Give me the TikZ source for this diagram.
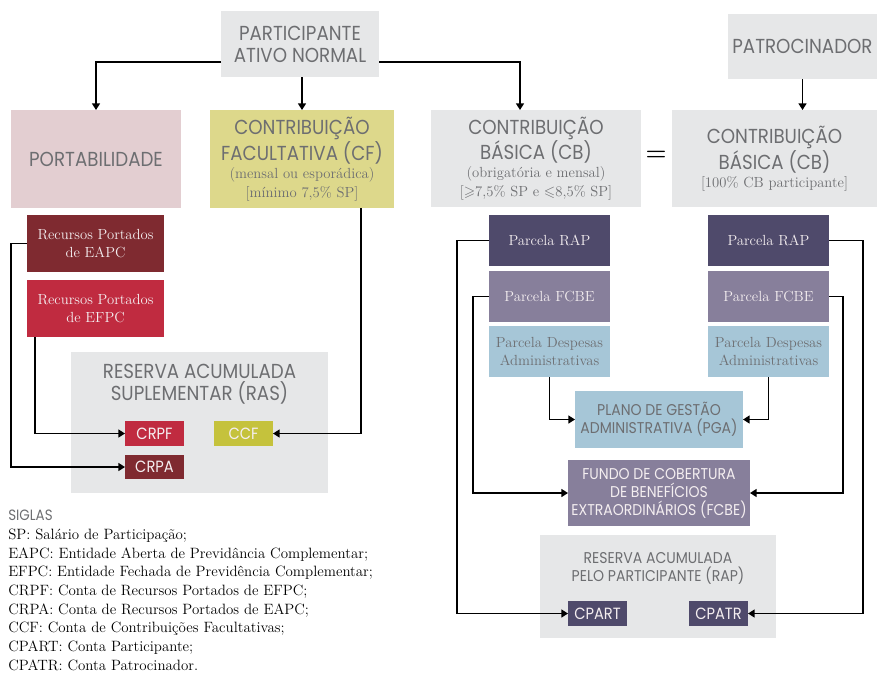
\documentclass[tikz,border=0pt]{standalone}
\usepackage{amssymb}
\usepackage{fontspec}
\usetikzlibrary{arrows.meta}
\newfontfamily\hd[FakeStretch=0.9]{Poppins}
\definecolor{boxgray}{HTML}{E6E7E8}
\definecolor{pinkb}{HTML}{E3CED1}
\definecolor{cfy}{HTML}{DDD88B}
\definecolor{darkred}{HTML}{7F2A30}
\definecolor{redb}{HTML}{C02B40}
\definecolor{olive}{HTML}{C5C23C}
\definecolor{darkpurp}{HTML}{4F4A6B}
\definecolor{midpurp}{HTML}{877F9B}
\definecolor{lblue}{HTML}{A6C6D7}
\definecolor{txtgray}{HTML}{6D6E71}
\definecolor{wtxt}{HTML}{F4EEF0}
\newcommand\HB{\hd\fontsize{15.2}{16.5}\selectfont}
\newcommand\HS{\hd\fontsize{11.7}{13.5}\selectfont}
\newcommand\HL{\hd\fontsize{12.2}{13}\selectfont}
\newcommand\SR{\rmfamily\fontsize{11}{14}\selectfont}
\newcommand\bx[7]{\node[#6, minimum width={(#4-#2)*0.75pt}, minimum height={(#5-#3)*0.75pt}] (#1) at ({(#2+#4)/2},{(#3+#5)/2}) {#7};}
\tikzset{
  box/.style={rectangle, inner sep=0pt, outer sep=0pt, align=center, text=txtgray},
  arr/.style={line width=1.2pt, -{Triangle[length=5pt,width=6pt]}},
}
\begin{document}
\begin{tikzpicture}[x=0.75pt,y=-0.75pt]
\useasboundingbox (0,0) rectangle (877,672);
% top
\bx{pan}{221}{11}{379}{77}{box,fill=boxgray,font=\HB}{PARTICIPANTE\\ATIVO NORMAL}
\bx{pat}{728}{14}{877}{79}{box,fill=boxgray,font=\HB}{PATROCINADOR}
\bx{port}{11}{110}{181}{208}{box,fill=pinkb,font=\HB}{PORTABILIDADE}
\bx{cf}{210}{110}{394}{208}{box,fill=cfy,font=\HB}{CONTRIBUIÇÃO\\FACULTATIVA (CF)\\[-3pt]{\SR (mensal ou esporádica)}\\[-2.25pt]{\SR [mínimo 7,5\% SP]}}
\bx{cbl}{431}{110}{641}{207}{box,fill=boxgray,font=\HB}{CONTRIBUIÇÃO\\BÁSICA (CB)\\[-3pt]{\SR (obrigatória e mensal)}\\[-2.25pt]{\SR [$\geqslant$7,5\% SP e $\leqslant$8,5\% SP]}}
\bx{cbr}{672}{110}{877}{207}{box,fill=boxgray,font=\HB}{CONTRIBUIÇÃO\\BÁSICA (CB)\\[-3pt]{\SR [100\% CB participante]}}
\node[font=\bfseries\fontsize{18}{18}\selectfont] (eq) at (656,156) {=};
% left column
\bx{eapc}{27}{215}{164}{272}{box,fill=darkred,text=wtxt,font=\SR}{Recursos Portados\\de EAPC}
\bx{efpc}{27}{280}{164}{337}{box,fill=redb,text=wtxt,font=\SR}{Recursos Portados\\de EFPC}
\bx{ras}{71}{352}{328}{493}{box,fill=boxgray}{}
\node[box, anchor=north, font=\HB] (rast) at (199.5,364) {RESERVA ACUMULADA\\SUPLEMENTAR (RAS)};
\bx{crpf}{125}{421}{184}{446}{box,fill=redb,text=wtxt,font=\HL}{CRPF}
\bx{ccf}{214}{421}{273}{446}{box,fill=olive,text=wtxt,font=\HL}{CCF}
\bx{crpa}{125}{455}{184}{479}{box,fill=darkred,text=wtxt,font=\HL}{CRPA}
% right columns
\bx{rapl}{489}{215}{610}{266}{box,fill=darkpurp,text=wtxt,font=\SR}{Parcela RAP}
\bx{fcbel}{489}{271}{610}{322}{box,fill=midpurp,text=wtxt,font=\SR}{Parcela FCBE}
\bx{despl}{489}{326}{610}{377}{box,fill=lblue,font=\SR}{Parcela Despesas\\Administrativas}
\bx{rapr}{708}{215}{829}{266}{box,fill=darkpurp,text=wtxt,font=\SR}{Parcela RAP}
\bx{fcber}{708}{271}{829}{322}{box,fill=midpurp,text=wtxt,font=\SR}{Parcela FCBE}
\bx{despr}{708}{326}{829}{377}{box,fill=lblue,font=\SR}{Parcela Despesas\\Administrativas}
\bx{pga}{575}{391}{743}{448}{box,fill=lblue,font=\HS}{PLANO DE GESTÃO\\ADMINISTRATIVA (PGA)}
\bx{fund}{568}{460}{750}{526}{box,fill=midpurp,text=wtxt,font=\HS}{FUNDO DE COBERTURA\\DE BENEFÍCIOS\\EXTRAORDINÁRIOS (FCBE)}
\bx{rap}{540}{535}{776}{638}{box,fill=boxgray}{}
\node[box, anchor=north, font=\HS] (rapt) at (658,552) {RESERVA ACUMULADA\\PELO PARTICIPANTE (RAP)};
\bx{cpart}{568}{601}{627}{626}{box,fill=darkpurp,text=wtxt,font=\HL}{CPART}
\bx{cpatr}{689}{601}{748}{626}{box,fill=darkpurp,text=wtxt,font=\HL}{CPATR}
% connectors
\draw[arr] ([yshift=11.25pt]pan.south west) -| (port.north);
\draw[arr] (pan.south -| cf.north) -- (cf.north);
\draw[arr] ([yshift=11.25pt]pan.south east) -| ([xshift=-12pt]cbl.north);
\draw[arr] (pat.south) -- (pat.south |- cbr.north);
\draw[arr] (eapc.west) -- ++(-12pt,0) |- (crpa.west);
\draw[arr] ([xshift=6pt]efpc.south west) |- (crpf.west);
\draw[arr] ([xshift=-24.75pt]cf.south east) |- (ccf.east);
\draw[arr] (rapl.west) -- ++(-24pt,0) |- (cpart.west);
\draw[arr] (fcbel.west) -- ++(-12pt,0) |- (fund.west);
\draw[arr] (despl.south) |- (pga.west);
\draw[arr] (despr.south) |- (pga.east);
\draw[arr] (fcber.east) -- ++(10.5pt,0) |- (fund.east);
\draw[arr] (rapr.east) -- ++(25.5pt,0) |- (cpatr.east);
% legend
\node[anchor=north west, align=left, inner sep=0pt, font=\fontsize{11.2}{14}\selectfont] (leg) at (8,510)
 {{\hd\color{txtgray}\fontsize{11.2}{14}\selectfont SIGLAS}\\
  SP: Salário de Participação;\\
  EAPC: Entidade Aberta de Previdância Complementar;\\
  EFPC: Entidade Fechada de Previdência Complementar;\\
  CRPF: Conta de Recursos Portados de EFPC;\\
  CRPA: Conta de Recursos Portados de EAPC;\\
  CCF: Conta de Contribuições Facultativas;\\
  CPART: Conta Participante;\\
  CPATR: Conta Patrocinador.};
\end{tikzpicture}
\end{document}
